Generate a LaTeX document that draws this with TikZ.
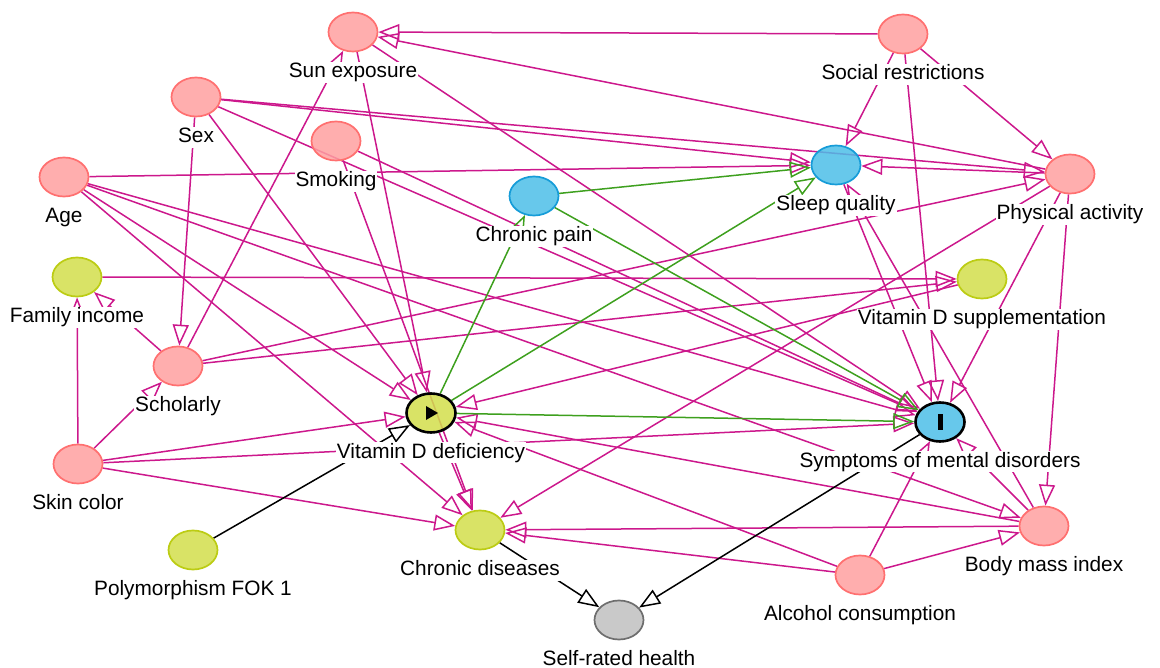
\documentclass[tikz,border=0pt]{standalone}
\usepackage{fontspec}
\setmainfont{Liberation Sans}
\usepackage{tikz}
\usetikzlibrary{positioning,arrows.meta,shapes.geometric}
\pgfdeclarelayer{background}
\pgfsetlayers{background,main}
\definecolor{pinkfill}{RGB}{255,160,160}
\definecolor{pinkline}{RGB}{255,112,112}
\definecolor{limefill}{RGB}{210,222,75}
\definecolor{limeline}{RGB}{188,204,20}
\definecolor{skyfill}{RGB}{76,190,232}
\definecolor{skyline}{RGB}{22,156,216}
\definecolor{greyfill}{RGB}{192,192,192}
\definecolor{greyline}{RGB}{110,110,110}
\definecolor{edgepink}{RGB}{204,24,140}
\definecolor{edgegreen}{RGB}{62,160,30}

\begin{document}
\begin{tikzpicture}[x=1pt, y=-1pt,
  var/.style={ellipse, draw, line width=1.7pt, minimum width=49pt, minimum height=39pt, inner sep=0pt, fill opacity=0.85},
  pink/.style={var, fill=pinkfill, draw=pinkline},
  lime/.style={var, fill=limefill, draw=limeline},
  sky/.style={var, fill=skyfill, draw=skyline},
  grey/.style={var, fill=greyfill, draw=greyline},
  main/.style={line width=2.6pt, draw=black},
  lbl/.style={fill=white, inner sep=1pt, font=\fontsize{20.8}{22}\selectfont, text height=15pt, text depth=4pt},
  arr/.style={-{Triangle[open, length=21pt, width=16pt]}, line width=1.5pt, draw=edgepink},
  garr/.style={arr, draw=edgegreen},
  karr/.style={arr, draw=black}
]
\useasboundingbox (0,0) rectangle (1160,668);

% variables
\node[pink] (se)  at (353,32)  {};
\node[pink] (sr)  at (903,34)  {};
\node[pink] (sex) at (196,97)  {};
\node[pink] (smk) at (336,141) {};
\node[pink] (age) at (64,177)  {};
\node[sky]  (cp)  at (534,196) {};
\node[sky]  (sq)  at (836,165) {};
\node[pink] (pa)  at (1070,174) {};
\node[lime] (fi)  at (77,277)  {};
\node[lime] (vds) at (982,279) {};
\node[pink] (sc)  at (178,366) {};
\node[lime, main] (vdd) at (431,413) {};
\node[sky, main]  (smd) at (940,422) {};
\node[pink] (sk)  at (78,464)  {};
\node[pink] (bmi) at (1044,526) {};
\node[lime] (cd)  at (480,530) {};
\node[lime] (pf)  at (193,550) {};
\node[pink] (ac)  at (860,575) {};
\node[grey] (srh) at (619,620) {};

% exposure and outcome marks
\fill (vdd.center) ++(-5,-7) -- ++(0,14) -- ++(12,-7) -- cycle;
\fill (smd.center) ++(-2.5,-7.5) rectangle ++(5,15);

\begin{pgfonlayer}{background}
\draw[arr] (sr) -- (se);
\draw[arr] (pa) -- (se);
\draw[arr] (sc) -- (se);
\draw[arr] (se) -- (vdd);
\draw[arr] (se) -- (smd);
\draw[arr] (sex) -- (sc);
\draw[arr] (sex) -- (sq);
\draw[arr] (sex) -- (pa);
\draw[arr] (sex) -- (vdd);
\draw[arr] (sex) -- (smd);
\draw[arr] (smk) -- (smd);
\draw[arr] (smk) -- (cd);
\draw[arr] (age) -- (sq);
\draw[arr] (age) -- (vdd);
\draw[arr] (age) -- (cd);
\draw[arr] (age) -- (smd);
\draw[arr] (age) -- (bmi);
\draw[arr] (sr) -- (sq);
\draw[arr] (sr) -- (pa);
\draw[arr] (sr) -- (smd);
\draw[arr] (pa) -- (sq);
\draw[arr] (pa) -- (cd);
\draw[arr] (pa) -- (smd);
\draw[arr] (pa) -- (bmi);
\draw[arr] (sc) -- (fi);
\draw[arr] (sc) -- (pa);
\draw[arr] (sc) -- (vds);
\draw[arr] (sk) -- (fi);
\draw[arr] (sk) -- (sc);
\draw[arr] (sk) -- (vdd);
\draw[arr] (sk) -- (smd);
\draw[arr] (sk) -- (cd);
\draw[arr] (fi) -- (vds);
\draw[arr] (vds) -- (vdd);
\draw[arr] (sq) -- (smd);
\draw[arr] (bmi) -- (sq);
\draw[arr] (bmi) -- (smd);
\draw[arr] (bmi) -- (vdd);
\draw[arr] (bmi) -- (cd);
\draw[arr] (ac) -- (smd);
\draw[arr] (ac) -- (bmi);
\draw[arr] (ac) -- (cd);
\draw[arr] (ac) -- (vdd);
\draw[arr] (vdd) -- (cd);
\draw[garr] (vdd) -- (cp);
\draw[garr] (vdd) -- (sq);
\draw[garr] (vdd) -- (smd);
\draw[garr] (cp) -- (sq);
\draw[garr] (cp) -- (smd);
\draw[karr] (pf) -- (vdd);
\draw[karr] (cd) -- (srh);
\draw[karr] (smd) -- (srh);
\end{pgfonlayer}

% names
\node[lbl, below=9pt of se]  (se-l)  {Sun exposure};
\node[lbl, below=9pt of sr]  (sr-l)  {Social restrictions};
\node[lbl, below=9pt of sex] (sex-l) {Sex};
\node[lbl, below=9pt of smk] (smk-l) {Smoking};
\node[lbl, below=9pt of age] (age-l) {Age};
\node[lbl, below=9pt of cp]  (cp-l)  {Chronic pain};
\node[lbl, below=9pt of sq]  (sq-l)  {Sleep quality};
\node[lbl, below=9pt of pa]  (pa-l)  {Physical activity};
\node[lbl, below=9pt of fi]  (fi-l)  {Family income};
\node[lbl, below=9pt of vds] (vds-l) {Vitamin D supplementation};
\node[lbl, below=9pt of sc]  (sc-l)  {Scholarly};
\node[lbl, below=8pt of vdd] (vdd-l) {Vitamin D deficiency};
\node[lbl, below=8pt of smd] (smd-l) {Symptoms of mental disorders};
\node[lbl, below=9pt of sk]  (sk-l)  {Skin color};
\node[lbl, below=9pt of bmi] (bmi-l) {Body mass index};
\node[lbl, below=9pt of cd]  (cd-l)  {Chronic diseases};
\node[lbl, below=9pt of pf]  (pf-l)  {Polymorphism FOK 1};
\node[lbl, below=9pt of ac]  (ac-l)  {Alcohol consumption};
\node[lbl, below=9pt of srh] (srh-l) {Self-rated health};

\end{tikzpicture}
\end{document}
